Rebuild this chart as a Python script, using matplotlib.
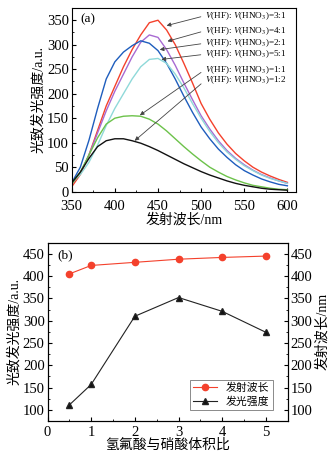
import matplotlib
matplotlib.use("Agg")
import matplotlib.pyplot as plt
from matplotlib.ticker import MultipleLocator

plt.rcParams['font.family'] = ['Liberation Serif', 'Noto Sans CJK SC']
plt.rcParams['mathtext.fontset'] = 'stix'
plt.rcParams['axes.unicode_minus'] = False

# ---------------- data: panel (a) ----------------
wavelength = [350, 360, 370, 380, 390, 400, 410, 420, 430, 440, 450, 460, 470,
              480, 490, 500, 510, 520, 530, 540, 550, 560, 570, 580, 590, 600]
pl_3_1 = [10, 35, 75, 125, 175, 215, 255, 290, 320, 345, 350, 330, 300,
          262, 222, 180, 148, 120, 97, 78, 63, 50, 40, 32, 25, 19]
pl_4_1 = [15, 38, 75, 120, 165, 205, 240, 275, 305, 320, 315, 290, 258,
          222, 188, 155, 128, 104, 84, 68, 55, 44, 35, 28, 22, 17]
pl_2_1 = [18, 50, 105, 170, 230, 265, 285, 298, 308, 303, 288, 262, 230,
          195, 162, 132, 108, 87, 70, 55, 43, 34, 26, 20, 15, 12]
pl_5_1 = [18, 35, 60, 95, 135, 170, 200, 230, 255, 270, 272, 262, 240,
          212, 180, 150, 123, 100, 81, 66, 53, 43, 34, 27, 22, 17]
pl_1_1 = [15, 40, 75, 110, 138, 150, 154, 155, 154, 148, 138, 124, 108,
          92, 77, 63, 50, 40, 31, 24, 18, 13, 10, 7, 5, 4]
pl_1_2 = [18, 40, 68, 92, 104, 108, 108, 104, 99, 92, 84, 75, 66,
          57, 49, 41, 34, 28, 22, 17, 13, 10, 7, 5, 4, 3]

ratio_labels = ['3:1', '4:1', '2:1', '5:1', '1:1', '1:2']
# arrow target points on each curve (nm, intensity)
arrow_nm = [460, 461, 452, 454, 429, 423]
arrow_val = [339, 307, 290, 270, 156, 104]

# ---------------- data: panel (b) ----------------
ratio = [0.5, 1, 2, 3, 4, 5]
emission_wl = [405, 424, 431, 438, 442, 445]
pl_intensity = [111, 157, 310, 352, 321, 274]

fig = plt.figure(figsize=(3.36, 4.59), dpi=100)

# ---------------- panel (a) ----------------
ax1 = fig.add_axes([0.2134, 0.5824, 0.881 - 0.2134, 0.9826 - 0.5824])
series = [(pl_3_1, '#f4412c'), (pl_4_1, '#a86ad2'), (pl_2_1, '#1e5dbd'),
          (pl_5_1, '#8fd9d9'), (pl_1_1, '#6cc24a'), (pl_1_2, '#111111')]
for vals, col in series:
    ax1.plot(wavelength, vals, color=col, lw=1.0)

ax1.set_xlim(350, 610)
ax1.set_ylim(0, 375)
ax1.xaxis.set_major_locator(MultipleLocator(50))
ax1.xaxis.set_minor_locator(MultipleLocator(25))
ax1.yaxis.set_major_locator(MultipleLocator(50))
ax1.yaxis.set_minor_locator(MultipleLocator(25))
ax1.set_yticks(range(0, 351, 50))
ax1.tick_params(which='both', direction='in', labelsize=10.5, pad=2)
ax1.tick_params(axis='x', pad=6)
ax1.tick_params(which='major', length=3)
ax1.tick_params(which='minor', length=1.5)
ax1.set_xlabel('发射波长/nm', fontsize=10, labelpad=0)
ax1.set_ylabel('光致发光强度/a.u.', fontsize=10, labelpad=1)
ax1.text(0.04, 0.94, '(a)', transform=ax1.transAxes, fontsize=9.5, va='center')

row_y = [0.958, 0.876, 0.808, 0.748, 0.664, 0.605]
for lab, nm, v, ry in zip(ratio_labels, arrow_nm, arrow_val, row_y):
    ax1.annotate(r'$V$(HF): $V$(HNO$_3$)=' + lab, xy=(nm, v),
                 xytext=(0.594, ry), textcoords='axes fraction',
                 fontsize=6.6, ha='left', va='center',
                 arrowprops=dict(arrowstyle='-|>', color='#444444', lw=0.6,
                                 mutation_scale=6, shrinkA=1, shrinkB=0,
                                 relpos=(0, 0.5)))

# ---------------- panel (b) ----------------
ax2 = fig.add_axes([0.1414, 0.0828, 0.8563 - 0.1414, 0.4712 - 0.0828])
ax3 = ax2.twinx()
l2, = ax2.plot(ratio, pl_intensity, color='#222222', lw=0.8, marker='^',
               markersize=4.5, markerfacecolor='#111111')
l3, = ax3.plot(ratio, emission_wl, color='#f4412c', lw=0.8, marker='o',
               markersize=4.5, markerfacecolor='#f4412c')
for ax in (ax2, ax3):
    ax.set_ylim(75, 475)
    ax.yaxis.set_major_locator(MultipleLocator(50))
    ax.yaxis.set_minor_locator(MultipleLocator(25))
    ax.set_yticks(range(100, 451, 50))
    ax.tick_params(which='both', direction='in', labelsize=10.5, pad=2)
    ax.tick_params(which='major', length=3)
    ax.tick_params(which='minor', length=1.5)
ax2.set_xlim(0, 5.5)
ax2.xaxis.set_major_locator(MultipleLocator(1))
ax2.xaxis.set_minor_locator(MultipleLocator(0.5))
ax2.tick_params(axis='x', pad=3.5)
ax2.set_xlabel('氢氟酸与硝酸体积比', fontsize=10, labelpad=0)
ax2.set_ylabel('光致发光强度/a.u.', fontsize=10, labelpad=1)
ax3.set_ylabel('发射波长/nm', fontsize=10, labelpad=2)
ax2.text(0.04, 0.93, '(b)', transform=ax2.transAxes, fontsize=9.5, va='center')

leg = ax2.legend([l3, l2], ['发射波长', '发光强度'], loc='lower right',
                 fontsize=7.8, frameon=True, fancybox=False, edgecolor='#555555',
                 handlelength=2.2, borderpad=0.3, labelspacing=0.3,
                 bbox_to_anchor=(0.96, 0.03))
leg.get_frame().set_linewidth(0.6)

fig.savefig('out.png', dpi=100)
